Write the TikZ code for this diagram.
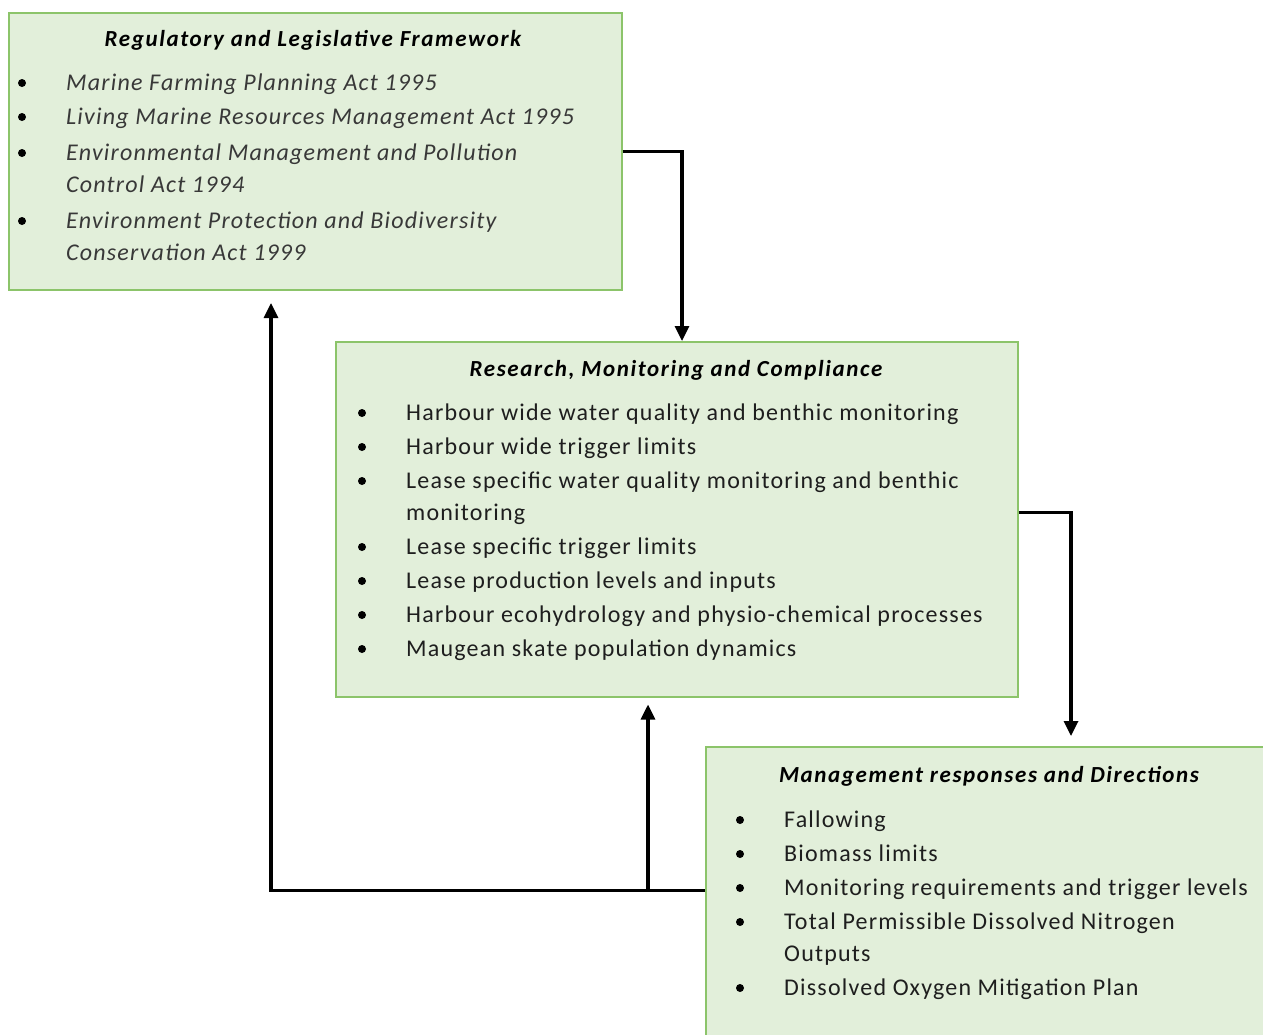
\documentclass[tikz,border=0pt]{standalone}
\usepackage{fontspec}
\setmainfont{Carlito}[LetterSpace=5]
\usetikzlibrary{arrows.meta,positioning,calc}
\definecolor{boxfill}{HTML}{E2EFDA}
\definecolor{boxline}{HTML}{8CC46A}
\definecolor{txt}{HTML}{1E1E1E}

\begin{document}
\begin{tikzpicture}[x=1pt, y=-1pt,
  box/.style={draw=boxline, line width=1.5pt, fill=boxfill, anchor=north west, inner sep=0pt},
  ttl/.style={anchor=base, font=\fontsize{23}{27}\selectfont\bfseries\itshape\addfontfeatures{LetterSpace=7}, text=black},
  itm/.style={anchor=base west, inner sep=0pt, font=\fontsize{24}{28}\selectfont, text=txt},
  dot/.style={circle, fill=black, inner sep=0pt, minimum size=8pt},
  arr/.style={line width=3.2pt, -{Triangle[length=15pt,width=14pt]}}]
\useasboundingbox (0,0) rectangle (1263,1034);
% the three boxes
\node[box, minimum width=613pt, minimum height=277pt] (reg) at (8,12) {};
\node[box, minimum width=682pt, minimum height=355pt] (res) at (335,341) {};
\node[box, minimum width=570pt, minimum height=300pt] (mgmt) at (705,746) {};
% regulatory framework
\node[ttl] (regT) at (313,46) {Regulatory and Legislative Framework};
\foreach \yy [count=\i] in {83,117,153,221} { \node[dot] (regB\i) at (22,\yy) {}; }
\foreach \yy/\t [count=\i] in {90/Marine Farming Planning Act 1995, 124/Living Marine Resources Management Act 1995,
  160/Environmental Management and Pollution, 192/Control Act 1994,
  228/Environment Protection and Biodiversity, 260/Conservation Act 1999}
  { \node[itm, font=\fontsize{24}{28}\selectfont\itshape, text=black!78] (reg\i) at (66,\yy) {\t}; }
% research and monitoring
\node[ttl] (resT) at (676,376) {Research, Monitoring and Compliance};
\foreach \yy [count=\i] in {413,447,481,547,581,615,649} { \node[dot] (resB\i) at (362,\yy) {}; }
\foreach \yy/\t [count=\i] in {420/Harbour wide water quality and benthic monitoring, 454/Harbour wide trigger limits,
  488/Lease specific water quality monitoring and benthic, 520/monitoring,
  554/Lease specific trigger limits, 588/Lease production levels and inputs,
  622/Harbour ecohydrology and physio-chemical processes, 656/Maugean skate population dynamics}
  { \node[itm] (res\i) at (406,\yy) {\t}; }
% management responses
\node[ttl] (mgmtT) at (989,782) {Management responses and Directions};
\foreach \yy [count=\i] in {820,854,888,922,988} { \node[dot] (mgmtB\i) at (740,\yy) {}; }
\foreach \yy/\t [count=\i] in {827/Fallowing, 861/Biomass limits, 895/Monitoring requirements and trigger levels,
  929/Total Permissible Dissolved Nitrogen, 961/Outputs, 995/Dissolved Oxygen Mitigation Plan}
  { \node[itm] (mgmt\i) at (784,\yy) {\t}; }
% connectors
\coordinate (k1) at (682,341);
\coordinate (k2) at (1071,736);
\coordinate (k3) at (271,303);
\coordinate (k4) at (648,890);
\draw[arr] (reg.east) -| (k1);
\draw[arr] ([yshift=7pt]res.east) -| (k2);
\draw[arr] ([yshift=6pt]mgmt.west) -| (k3);
\draw[arr] (k4) -- ([yshift=-7pt]k4 |- res.south);
\end{tikzpicture}
\end{document}
